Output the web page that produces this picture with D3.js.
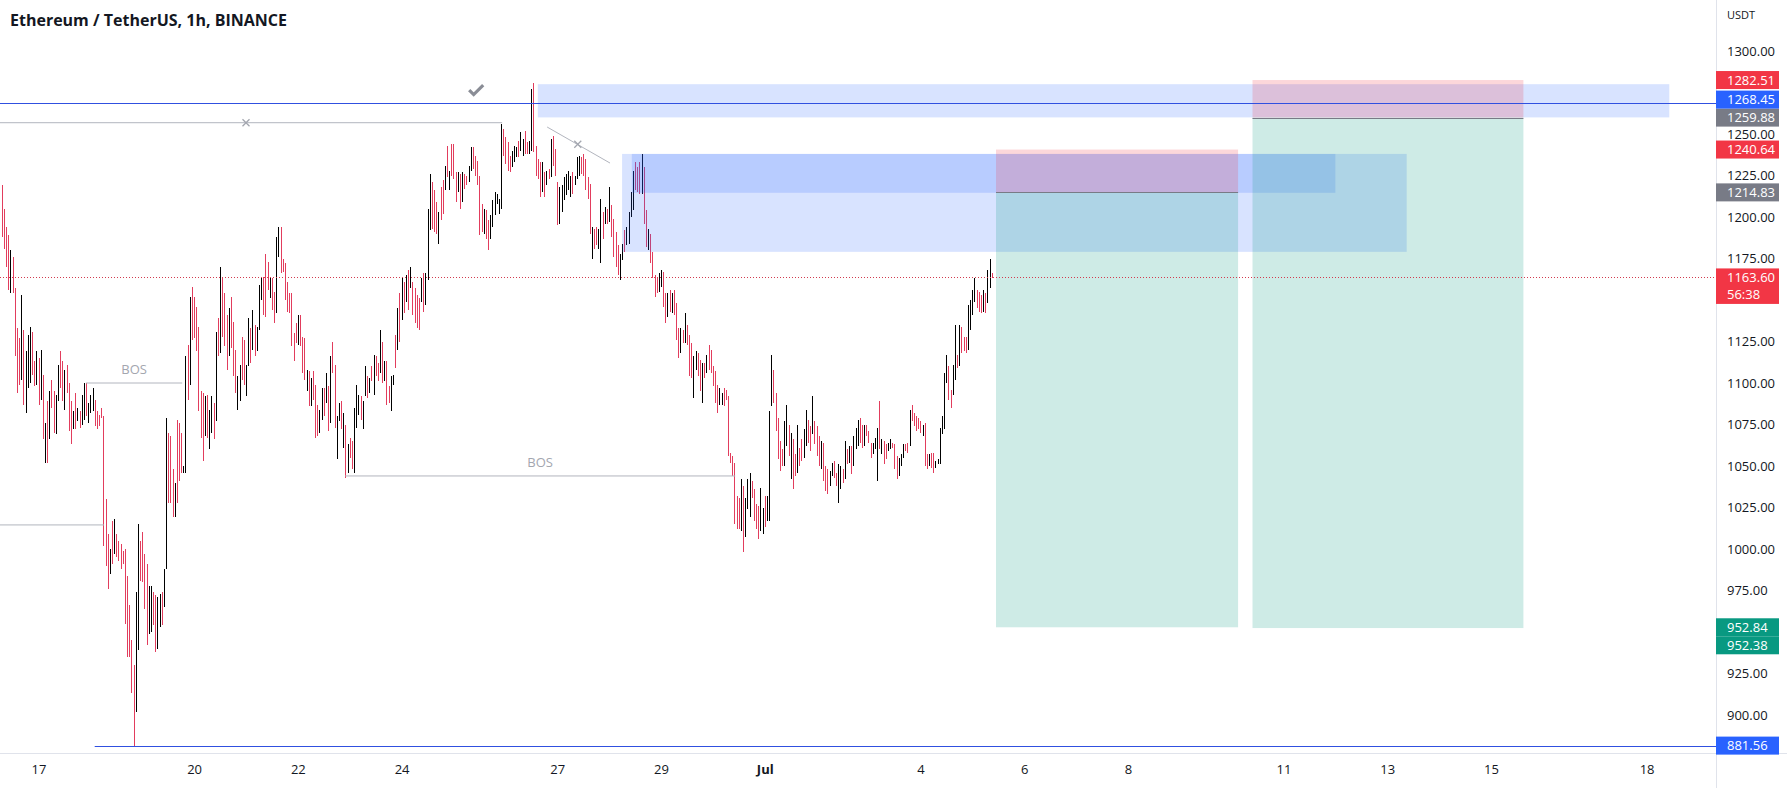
<!DOCTYPE html>
<html><head><meta charset="utf-8">
<script src="https://cdn.jsdelivr.net/npm/d3@7"></script>
<style>
html,body{margin:0;padding:0;background:#fff;overflow:hidden;}
svg{display:block;}
text{font-family:"Open Sans","Noto Sans",sans-serif;}
</style></head><body>
<svg id="chart" width="1787" height="788"></svg>
<script>
// ---------------- DATA ----------------
const chartTitle = "Ethereum / TetherUS, 1h, BINANCE";
const quoteCurrency = "USDT";
const candleStart = "2022-06-16T07:00:00Z";   // first hourly candle

const highs1 = [1219,1205,1194,1189,1180,1176,1157,1133,1127,1153, 1132,1119,1129,1134,1131,1113,1119,1115,1120,1105,
  1076,1089,1095,1102,1095,1093,1111,1119,1113,1108, 1111,1100,1089,1083,1094,1085,1083,1093,1100,1100,
  1088,1093,1097,1090,1083,1081,1085,1080,1030,1009, 1000,1017,1018,1009,1005,1003,999,1000,984,966,
  945,930,974,1015,1005,1010,997,991,978,978, 974,972,971,973,974,988,1079,1070,1068,1048,
  1040,1078,1076,1070,1050,1116,1123,1152,1158,1152, 1146,1134];
const lows1 = [1188,1181,1170,1156,1154,1154,1116,1094,1099,1102, 1087,1082,1097,1100,1105,1098,1099,1087,1090,1066,
  1052,1052,1066,1085,1070,1069,1089,1097,1089,1084, 1094,1071,1063,1072,1072,1077,1073,1075,1078,1080,
  1076,1082,1083,1074,1072,1074,1079,1002,990,976, 985,991,997,995,993,988,991,955,935,935,
  913,881.56,902,939,981,980,964,942,949,950, 954,938,940,953,954,965,988,1028,1028,1019,
  1019,1028,1041,1046,1046,1046,1090,1099,1126,1127, 1119,1083];
const dirs1 = "dddduddddu duuuddudud ududduuddu dddududuud uuuddddddd ududdddddd dduudddduu dduuduuddd uddduududd dd";

const highs2 = [1095,1094,1092,1093,1084,1092,1088,1131,1139,1170, 1164,1154,1141,1145,1152,1137,1120,1104,1111,1128,
  1126,1111,1139,1133,1144,1135,1134,1159,1164,1164, 1178,1173,1164,1163,1155,1188,1194,1194,1175,1172,
  1161,1154,1154,1130,1136,1141,1141,1128,1127,1108, 1107,1103,1107,1099,1087,1084,1097,1097,1106,1098,
  1116,1125,1111,1080,1088,1089,1082,1075,1063,1067, 1065,1085,1099,1093,1092,1089,1110,1104,1103,1110,
  1117,1116,1112,1132,1125,1113,1113,1098,1104,1105, 1129,1145];
const lows2 = [1067,1053,1068,1067,1060,1070,1066,1077,1116,1118, 1128,1122,1108,1116,1121,1104,1094,1084,1089,1102,
  1099,1092,1110,1112,1120,1116,1119,1132,1150,1141, 1140,1156,1151,1144,1136,1142,1176,1166,1167,1150,
  1143,1142,1122,1113,1124,1123,1122,1106,1102,1095, 1086,1086,1090,1067,1068,1070,1078,1080,1088,1071,
  1076,1106,1073,1054,1077,1072,1061,1043,1046,1055, 1048,1046,1073,1081,1078,1072,1092,1091,1094,1101,
  1093,1104,1101,1106,1100,1101,1087,1088,1083,1099, 1109,1120];
const dirs2 = "dduduududu ddduddduud duududuuud ddudduuddd dddddudddu duddduudud udduududud duuuduudud uddududduu du";

const highs3 = [1154,1163,1161,1165,1168,1170,1161,1157,1153,1151, 1163,1166,1166,1205,1226,1221,1216,1209,1203,1218,
  1222,1231,1243,1228,1244,1244,1227,1227,1226,1227, 1226,1225,1231,1242,1242,1237,1234,1225,1208,1205,
  1204,1198,1201,1210,1215,1214,1211,1256,1253,1248, 1245,1237,1240,1243,1242,1246,1251,1247,1252,1245,
  1246,1277,1281,1243,1235,1233,1233,1227,1228,1229, 1247,1249,1241,1221,1218,1219,1224,1226,1228,1225,
  1227,1225,1236,1237,1236,1238,1235,1224,1220,1194, 1193,1194,1193];
const lows3 = [1125,1138,1142,1149,1144,1157,1141,1136,1133,1132, 1149,1143,1147,1162,1192,1193,1191,1190,1184,1198,
  1202,1216,1224,1216,1225,1223,1209,1215,1205,1209, 1217,1219,1221,1228,1229,1225,1219,1189,1191,1190,
  1187,1180,1187,1194,1201,1208,1202,1205,1237,1232, 1228,1227,1230,1233,1236,1236,1240,1237,1238,1238,
  1238,1240,1239,1225,1223,1212,1215,1212,1219,1223, 1224,1231,1225,1195,1196,1203,1210,1213,1216,1212,
  1214,1219,1223,1225,1226,1225,1216,1211,1190,1175, 1181,1183,1181];
const dirs3 = "dudududddd uduuudddud dududddudu dduudddddu dduuuuuudd dduuuduudd uuddddudud uddduuuuuu duuudddddu ddu";

const highs4 = [1211,1203,1206,1205,1218,1207,1199,1191,1183,1178, 1184,1192,1194,1203,1215,1228,1233,1230,1233,1238,
  1230,1204,1193,1190,1179,1165,1164,1166,1168,1167, 1154,1154,1156,1154,1156,1148,1133,1133,1132,1142,
  1135,1129,1124,1116,1119,1118,1114,1112,1112,1117, 1123,1120,1110,1107,1099,1097,1094,1097,1096,1092,
  1058,1056,1052,1032,1031,1042,1038,1031,1042,1046, 1041,1036,1027,1026,1037,1025,1032,1032,1083,1117,
  1108,1094,1079,1065,1060,1077,1087,1075,1070,1066, 1057,1075,1061];
const lows4 = [1172,1187,1196,1196,1197,1188,1176,1170,1165,1162, 1174,1179,1183,1184,1200,1204,1216,1215,1214,1214,
  1196,1182,1180,1172,1163,1152,1154,1155,1158,1146, 1136,1140,1143,1142,1141,1126,1115,1118,1124,1124,
  1123,1104,1103,1091,1108,1104,1095,1088,1103,1106, 1108,1106,1098,1088,1082,1087,1087,1086,1090,1056,
  1052,1044,1015,1012,1012,1011,998,1007,1024,1019, 1031,1017,1012,1006,1011,1009,1013,1017,1017,1086,
  1088,1071,1054,1047,1050,1050,1062,1056,1042,1036, 1044,1046,1050];
const dirs4 = "udududdddu uduuuudddu ddudddduud dududddudu ddduuddudu ddddduuddd ddddduduuu dddduuduuu ddddduudud dud";

const highs5 = [1066,1072,1084,1078,1074,1092,1077,1074,1068,1065, 1064,1050,1048,1047,1052,1053,1046,1051,1050,1048,
  1065,1060,1062,1062,1068,1073,1078,1079,1075,1075, 1075,1071,1064,1064,1067,1073,1089,1066,1065,1063,
  1064,1066,1064,1063,1056,1055,1057,1063,1063,1064, 1084,1087,1082,1080,1079,1077,1075,1076,1057,1057,
  1058,1058,1053,1054,1073,1080,1106,1117,1110,1096, 1111,1135,1117,1135,1134,1128,1128,1147,1150,1156,
  1163,1156,1155,1153,1156,1154,1168,1175,1166];
const lows5 = [1053,1055,1062,1064,1059,1069,1063,1056,1050,1048, 1041,1035,1033,1038,1044,1043,1038,1028,1036,1040,
  1042,1051,1052,1045,1050,1060,1062,1064,1061,1062, 1068,1064,1055,1057,1060,1041,1060,1057,1051,1054,
  1059,1060,1061,1048,1042,1044,1050,1055,1059,1058, 1062,1077,1074,1071,1072,1070,1068,1050,1048,1050,
  1049,1046,1049,1051,1051,1069,1072,1100,1090,1085, 1093,1102,1109,1110,1118,1119,1118,1120,1132,1141,
  1149,1145,1143,1142,1143,1142,1148,1157,1163];
const dirs5 = "duuddudddu ddduudduud ududuuuddu ddduuududd uuddduuudd uddddduddu dduuuuuudd uududdduuu uddduduud";

const lastPrice = 1163.60;
const barCountdown = "56:38";

// price scale ticks and time scale ticks
const priceTicks = [900,925,950,975,1000,1025,1050,1075,1100,1125,1150,1175,1200,1225,1250,1275,1300];
const timeTickDates = ["2022-06-17","2022-06-20","2022-06-22","2022-06-24","2022-06-27","2022-06-29","2022-07-01",
  "2022-07-04","2022-07-06","2022-07-08","2022-07-11","2022-07-13","2022-07-15","2022-07-18"];
const timeTickLabels = ["17","20","22","24","27","29","Jul","4","6","8","11","13","15","18"];

// price-axis labels (value, kind)
const axisLabelPrices = [1282.51,1259.88,1268.45,1240.64,1214.83,1163.60,952.84,952.38,881.56];
const axisLabelKinds  = ["stop","entry","line","stop","entry","last","target","target","line"];

// drawings
const zoneStart  = ["2022-06-26T15:00Z","2022-06-28T06:00Z","2022-06-28T10:30Z"];
const zoneEnd    = ["2022-07-18T10:30Z","2022-07-13T09:00Z","2022-07-12T00:00Z"];
const zoneTop    = [1280,1238,1238];
const zoneBottom = [1260,1179,1214.6];

const posStart  = ["2022-07-05T11:00Z","2022-07-10T09:40Z"];
const posEnd    = ["2022-07-10T03:00Z","2022-07-15T15:00Z"];
const posEntry  = [1214.83,1259.88];
const posStop   = [1240.64,1282.51];
const posTarget = [952.84,952.38];

const blueLevelPrices = [1268.45,881.56];
const blueLevelStart  = ["2022-06-10T00:00Z","2022-06-18T02:00Z"];

const grayLineP0 = [1256.8,1014.5,1100,1044,1254.2];
const grayLineP1 = [1256.8,1014.5,1100,1044,1232.5];
const grayLineT0 = ["2022-06-10T00:00Z","2022-06-10T00:00Z","2022-06-17T22:00Z","2022-06-22T21:50Z","2022-06-26T19:20Z"];
const grayLineT1 = ["2022-06-25T22:30Z","2022-06-18T06:20Z","2022-06-19T18:30Z","2022-06-30T10:20Z","2022-06-28T00:25Z"];
const grayLineText = ["","","BOS","BOS",""];

const crossMarkTimes  = ["2022-06-21T00:00Z","2022-06-27T09:30Z"];
const crossMarkPrices = [1256.8,1243.8];
const checkMarkTime = "2022-06-25T10:30Z";
const checkMarkPrice = 1276.5;

// ---------------- CHART ----------------
const W = 1787, H = 788, plotW = 1716, plotH = 753;
const HOUR = 3600e3;
const RED = "#e23d5d", BLACK = "#000000";
const kindColor = {stop:"#f23645", entry:"#787b86", line:"#2962ff", last:"#f23645", target:"#089981"};

const highs = [...highs1,...highs2,...highs3,...highs4,...highs5];
const lows  = [...lows1,...lows2,...lows3,...lows4,...lows5];
const dirs  = (dirs1+dirs2+dirs3+dirs4+dirs5).replace(/\s/g,"").split("");

const x = d3.scaleUtc()
  .domain([new Date("2022-06-17T00:00:00Z"), new Date("2022-07-18T00:00:00Z")])
  .range([38.5, 1646.6]);
const y = d3.scaleLinear().domain([900,1300]).range([715,51]);
const T = s => new Date(s);

const svg = d3.select("#chart");
svg.append("rect").attr("width",W).attr("height",H).attr("fill","#fff");
svg.append("defs").append("clipPath").attr("id","plotClip")
  .append("rect").attr("x",0).attr("y",0).attr("width",plotW).attr("height",plotH);
const plot = svg.append("g").attr("clip-path","url(#plotClip)");

// candles (bars)
const t0 = new Date(candleStart).getTime();
const candles = highs.map((h,i)=>({t:new Date(t0+i*HOUR), h, l:lows[i], d:dirs[i]}));
plot.append("g").selectAll("rect").data(candles).join("rect")
  .attr("x", d=>Math.round(x(d.t)))
  .attr("y", d=>y(d.h))
  .attr("width",1)
  .attr("height", d=>Math.max(1, y(d.l)-y(d.h)))
  .attr("fill", d=> d.d==="u" ? BLACK : RED)
  .attr("shape-rendering","crispEdges");

// blue rectangle zones
plot.append("g").selectAll("rect").data(zoneStart).join("rect")
  .attr("x",(d,i)=>x(T(d)))
  .attr("y",(d,i)=>y(zoneTop[i]))
  .attr("width",(d,i)=>x(T(zoneEnd[i]))-x(T(d)))
  .attr("height",(d,i)=>y(zoneBottom[i])-y(zoneTop[i]))
  .attr("fill","rgba(41,98,255,0.18)");

// position tools (short)
const pg = plot.append("g");
posStart.forEach((s,i)=>{
  const xa = x(T(s)), xb = x(T(posEnd[i]));
  pg.append("rect").attr("x",xa).attr("width",xb-xa)
    .attr("y",y(posStop[i])).attr("height",y(posEntry[i])-y(posStop[i]))
    .attr("fill","rgba(242,54,69,0.2)");
  pg.append("rect").attr("x",xa).attr("width",xb-xa)
    .attr("y",y(posEntry[i])).attr("height",y(posTarget[i])-y(posEntry[i]))
    .attr("fill","rgba(8,153,129,0.2)");
  pg.append("line").attr("x1",xa).attr("x2",xb)
    .attr("y1",Math.round(y(posEntry[i]))+0.5).attr("y2",Math.round(y(posEntry[i]))+0.5)
    .attr("stroke","#787b86").attr("stroke-width",1);
});

// gray drawings
const gg = plot.append("g");
grayLineP0.forEach((p,i)=>{
  const xa = x(T(grayLineT0[i])), xb = x(T(grayLineT1[i]));
  const ya = y(p), yb = y(grayLineP1[i]);
  gg.append("line").attr("x1",xa).attr("x2",xb).attr("y1",ya).attr("y2",yb)
    .attr("stroke","#b2b5be").attr("stroke-width",1);
  if (grayLineText[i]) {
    gg.append("text").attr("x",(xa+xb)/2).attr("y",ya-9)
      .attr("text-anchor","middle").attr("font-size",13).attr("fill","#a3a6af")
      .text(grayLineText[i]);
  }
});
crossMarkTimes.forEach((t,i)=>{
  const cx = x(T(t)), cy = y(crossMarkPrices[i]), r = 3.5;
  gg.append("path").attr("d",`M${cx-r},${cy-r}L${cx+r},${cy+r}M${cx-r},${cy+r}L${cx+r},${cy-r}`)
    .attr("stroke","#a3a6af").attr("stroke-width",1.3).attr("fill","none");
});
{
  const cx = x(T(checkMarkTime)), cy = y(checkMarkPrice);
  gg.append("path").attr("d",`M${cx-7},${cy}L${cx-2.5},${cy+4.5}L${cx+7},${cy-5}`)
    .attr("stroke","#8a8d96").attr("stroke-width",3.2).attr("fill","none")
    .attr("stroke-linecap","butt").attr("stroke-linejoin","miter");
}

// blue horizontal levels
blueLevelPrices.forEach((p,i)=>{
  const yy = Math.round(y(p))+0.5;
  plot.append("line").attr("x1",x(T(blueLevelStart[i]))).attr("x2",plotW)
    .attr("y1",yy).attr("y2",yy).attr("stroke","#3050e0").attr("stroke-width",1);
});

// last price dotted line
{
  const yy = Math.round(y(lastPrice))+0.5;
  plot.append("line").attr("x1",0).attr("x2",plotW).attr("y1",yy).attr("y2",yy)
    .attr("stroke","#d23a4e").attr("stroke-width",1).attr("stroke-dasharray","1,2");
}

// frame lines
svg.append("line").attr("x1",0).attr("x2",W).attr("y1",plotH+0.5).attr("y2",plotH+0.5)
  .attr("stroke","#e0e3eb");
svg.append("line").attr("x1",plotW+0.5).attr("x2",plotW+0.5).attr("y1",0).attr("y2",H)
  .attr("stroke","#e0e3eb");

// title
svg.append("text").attr("x",10).attr("y",26).attr("font-size",16).attr("font-weight",700)
  .attr("fill","#131722").text(chartTitle);

// ---- price axis labels layout ----
const LH = 18;
const placed = [];
axisLabelPrices.forEach((p,i)=>{
  const kind = axisLabelKinds[i];
  let c = y(p);
  const ext = k => k==="last" ? [9, 26.5] : [LH/2, LH/2];
  const [up, dn] = ext(kind);
  for (let iter=0; iter<5; iter++) {
    let moved = false;
    for (const o of placed) {
      const top = c-up, bot = c+dn;
      if (top < o.bot && bot > o.top) {
        if (p > o.p) c = o.top - dn; else c = o.bot + up;
        moved = true;
      }
    }
    if (!moved) break;
  }
  placed.push({p, kind, c, top:c-up, bot:c+dn});
});

// price axis ticks (hide those covered by labels)
const visibleTicks = priceTicks.filter(v=>{
  const ty = y(v);
  if (ty < 8 || ty > plotH-4) return false;
  return !placed.some(o => ty+4 > o.top+1 && ty-4 < o.bot-2);
});
const yAxis = d3.axisRight(y).tickValues(visibleTicks).tickSize(0).tickPadding(11)
  .tickFormat(d=>d.toFixed(2));
const yg = svg.append("g").attr("transform",`translate(${plotW},0)`).call(yAxis);
yg.select(".domain").remove();
yg.selectAll("text").attr("font-size",13).attr("fill","#131722")
  .attr("font-family","'Open Sans','Noto Sans',sans-serif");

svg.append("text").attr("x",plotW+11).attr("y",19).attr("font-size",11).attr("fill","#131722")
  .text(quoteCurrency);

// label boxes
const lg = svg.append("g");
placed.forEach(o=>{
  lg.append("rect").attr("x",plotW).attr("y",o.top).attr("width",63).attr("height",o.bot-o.top)
    .attr("fill",kindColor[o.kind]);
  lg.append("text").attr("x",plotW+11).attr("y",o.c).attr("dy","0.35em")
    .attr("font-size",13).attr("fill","#fff").text(o.p.toFixed(2));
  if (o.kind==="last") {
    lg.append("text").attr("x",plotW+11).attr("y",o.c+17).attr("dy","0.35em")
      .attr("font-size",13).attr("fill","#fff").text(barCountdown);
  }
});

// time axis
const xAxis = d3.axisBottom(x).tickValues(timeTickDates.map(d=>new Date(d+"T00:00:00Z")))
  .tickSize(0).tickPadding(12).tickFormat((d,i)=>timeTickLabels[i]);
const xg = svg.append("g").attr("transform",`translate(0,${plotH})`).call(xAxis);
xg.select(".domain").remove();
xg.selectAll("text").attr("font-size",13).attr("fill","#131722")
  .attr("font-family","'Open Sans','Noto Sans',sans-serif")
  .attr("font-weight",(d,i)=>timeTickLabels[i]==="Jul" ? 700 : 400);
</script>
</body></html>
